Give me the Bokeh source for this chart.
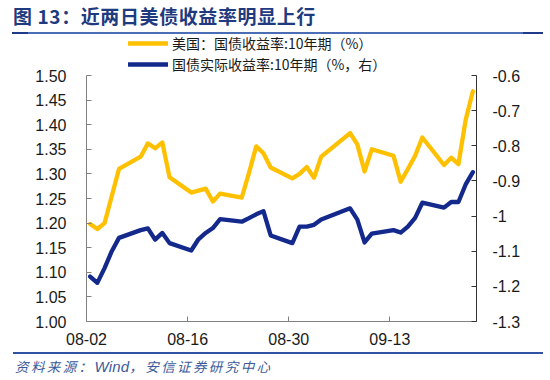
import pandas as pd
from datetime import datetime
from bokeh.plotting import figure
from bokeh.layouts import column
from bokeh.models import (Range1d, LinearAxis, FixedTicker, NumeralTickFormatter,
                          DatetimeTickFormatter, Legend, LegendItem, Div,
                          ColumnDataSource)
from bokeh.embed import file_html
from bokeh.resources import INLINE

# ---------------- data ----------------
dates = ["2021-08-02", "2021-08-03", "2021-08-04", "2021-08-05", "2021-08-06",
         "2021-08-09", "2021-08-10", "2021-08-11", "2021-08-12", "2021-08-13",
         "2021-08-16", "2021-08-17", "2021-08-18", "2021-08-19", "2021-08-20",
         "2021-08-23", "2021-08-24", "2021-08-25", "2021-08-26", "2021-08-27",
         "2021-08-30", "2021-08-31", "2021-09-01", "2021-09-02", "2021-09-03",
         "2021-09-07", "2021-09-08", "2021-09-09", "2021-09-10", "2021-09-13",
         "2021-09-14", "2021-09-15", "2021-09-16", "2021-09-17", "2021-09-20",
         "2021-09-21", "2021-09-22", "2021-09-23", "2021-09-24"]
us_10y = [1.198, 1.188, 1.200, 1.255, 1.310,
          1.335, 1.362, 1.352, 1.364, 1.293,
          1.262, 1.266, 1.270, 1.244, 1.260,
          1.252, 1.302, 1.356, 1.342, 1.313,
          1.291, 1.300, 1.314, 1.292, 1.335,
          1.383, 1.360, 1.305, 1.350, 1.337,
          1.284, 1.310, 1.337, 1.374, 1.318,
          1.333, 1.320, 1.410, 1.468]
real_10y = [-1.172, -1.190, -1.148, -1.100, -1.062,
            -1.040, -1.035, -1.067, -1.048, -1.077,
            -1.098, -1.066, -1.048, -1.034, -1.009,
            -1.016, -1.006, -0.995, -0.986, -1.055,
            -1.077, -1.030, -1.030, -1.025, -1.010,
            -0.978, -1.010, -1.075, -1.050, -1.040,
            -1.047, -1.030, -1.005, -0.962, -0.976,
            -0.960, -0.960, -0.910, -0.875]
x_tick_dates = ["2021-08-02", "2021-08-16", "2021-08-30", "2021-09-13"]
left_ticks = [1.00, 1.05, 1.10, 1.15, 1.20, 1.25, 1.30, 1.35, 1.40, 1.45, 1.50]
right_ticks = [-1.3, -1.2, -1.1, -1.0, -0.9, -0.8, -0.7, -0.6]

title_text = "图 13：近两日美债收益率明显上行"
legend_us = "美国：国债收益率:10年期（%）"
legend_real = "国债实际收益率:10年期（%，右）"
source_prefix = "资料来源："
source_wind = "Wind"
source_suffix = "，安信证券研究中心"

# ---------------- styling ----------------
YELLOW = "#FFC000"
NAVY = "#14298C"
TXT = "#1a1a1a"

# axis spans 1.0-1.5 (left) and -1.3..-0.6 (right) over 246 px; the frame extends
# 41 px higher to hold the legend, so both ranges are padded by the same share.
PAD = 41.0 / 246.0
L0, L1 = left_ticks[0], left_ticks[-1]
R0, R1 = right_ticks[0], right_ticks[-1]

x_pos = pd.to_datetime(dates) + pd.Timedelta(hours=12)  # points centred in their day
src = ColumnDataSource(dict(x=x_pos, us=us_10y, real=real_10y))

p = figure(width=550, height=318, output_backend="svg", toolbar_location=None,
           x_axis_type="datetime",
           x_range=Range1d(datetime(2021, 8, 2), datetime(2021, 9, 25)),
           y_range=Range1d(L0, L1 + (L1 - L0) * PAD),
           min_border_left=86, min_border_right=74, min_border_top=0, min_border_bottom=31,
           margin=0)
p.outline_line_color = None
p.xgrid.visible = False
p.ygrid.visible = False
p.background_fill_color = "white"
p.border_fill_color = "white"

p.extra_y_ranges = {"r": Range1d(R0, R1 + (R1 - R0) * PAD)}

r_us = p.line("x", "us", source=src, line_color=YELLOW, line_width=4.3,
              line_join="round", line_cap="round")
r_real = p.line("x", "real", source=src, y_range_name="r", line_color=NAVY, line_width=4.3,
                line_join="round", line_cap="round")

tick_ms = [pd.Timestamp(d).value // 10**6 for d in x_tick_dates]

def style_axis(ax, line_color, standoff):
    ax.axis_line_color = line_color
    ax.axis_line_width = 1
    ax.major_tick_line_color = line_color
    ax.major_tick_in = 5
    ax.major_tick_out = 0
    ax.minor_tick_line_color = None
    ax.major_label_text_font = "Liberation Sans"
    ax.major_label_text_font_size = "16px"
    ax.major_label_text_color = TXT
    ax.major_label_standoff = standoff

xa = p.xaxis[0]
xa.ticker = FixedTicker(ticks=tick_ms)
xa.formatter = DatetimeTickFormatter(days="%m-%d", months="%m-%d", context=None)
style_axis(xa, "#808080", 11)

ya = p.yaxis[0]
ya.ticker = FixedTicker(ticks=left_ticks)
ya.formatter = NumeralTickFormatter(format="0.00")
ya.bounds = (L0, L1)
style_axis(ya, "#808080", 20)

ra = LinearAxis(y_range_name="r", ticker=FixedTicker(ticks=right_ticks),
                formatter=NumeralTickFormatter(format="0.[0]"), bounds=(R0, R1))
style_axis(ra, "#333333", 16)
p.add_layout(ra, "right")

legend = Legend(items=[LegendItem(label=legend_us, renderers=[r_us]),
                       LegendItem(label=legend_real, renderers=[r_real])],
                location=(42, 247.5), orientation="vertical",
                glyph_width=40, glyph_height=18, label_height=18, spacing=1,
                label_standoff=4, padding=0, margin=0,
                border_line_alpha=0, background_fill_alpha=0,
                label_text_font="Noto Sans CJK SC", label_text_font_size="14px",
                label_text_color=TXT)
p.add_layout(legend)

title_div = Div(
    text=(f'<div style="margin-left:12px;width:531px;height:32px;box-sizing:border-box;'
          f'padding:6px 0 0 1px;'
          f'font-family:\'Noto Sans CJK SC\';font-weight:bold;font-size:19px;letter-spacing:0.6px;'
          f'line-height:20px;color:#1F3A7E;white-space:nowrap">{title_text}</div>'
          f'<div style="margin-left:12px;width:531px;height:2px;'
          f'background:linear-gradient(to right,#1F3A8A 0,#1F3A8A 16px,#4A6DB5 16px,'
          f'#4A6DB5 511px,#1F3A8A 511px)"></div>'),
    width=550, height=34, margin=0)

source_div = Div(
    text=(f'<div style="margin-left:13px;width:530px;box-sizing:border-box;'
          f'border-top:2px solid #2F52A4;padding:3px 0 0 2px;'
          f'font-family:\'Noto Sans CJK SC\';font-style:italic;font-size:13.5px;letter-spacing:2.4px;'
          f'line-height:18px;color:#3C5A9A;white-space:nowrap">{source_prefix}'
          f'<span style="letter-spacing:0.2px;font-family:\'Liberation Sans\';font-size:15px">'
          f'{source_wind}</span>{source_suffix}</div>'),
    width=550, height=28, margin=0)

layout = column(title_div, p, source_div, spacing=0, margin=0)

open("out.html", "w").write(file_html(layout, INLINE))
